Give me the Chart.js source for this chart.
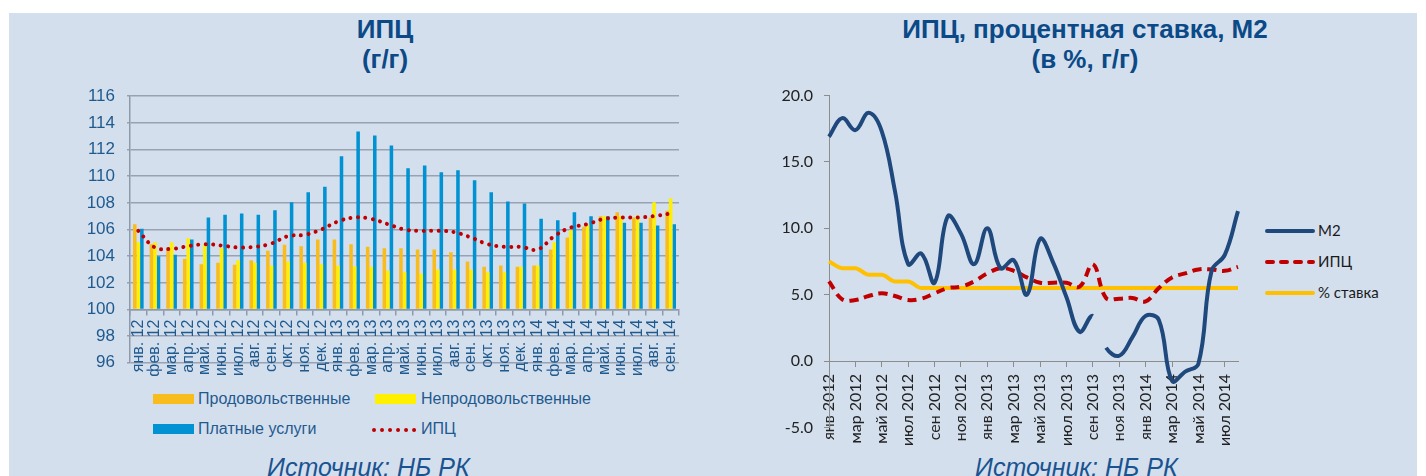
<!DOCTYPE html>
<html>
<head>
<meta charset="utf-8">
<script src="https://cdn.jsdelivr.net/npm/chart.js@4/dist/chart.umd.min.js"></script>
<style>
  body { margin: 0; width: 1426px; height: 476px; background: #fff; overflow: hidden; font-family: "Liberation Sans", Arial, sans-serif; }
  #panel { position: absolute; left: 9px; top: 13px; width: 1408px; height: 463px; background: #d4dfee; overflow: hidden; }
  .abs { position: absolute; }
  .title { position: absolute; text-align: center; font-weight: bold; font-size: 26px; line-height: 30px; color: #0b4a86; }
  .src { position: absolute; font-style: italic; font-size: 25px; color: #1a5390; white-space: nowrap; }
  .lg { position: absolute; font-size: 16px; color: #1f5a8e; white-space: nowrap; }
  .box { position: absolute; width: 41px; height: 10px; }
  .rlg { position: absolute; font-family: Lato, "Open Sans", sans-serif; font-size: 15px; color: #1a1a1a; white-space: nowrap; }
</style>
</head>
<body>
<div id="panel"></div>

<div class="title" style="left:185px; top:14px; width:400px;">ИПЦ<br>(г/г)</div>
<div class="title" style="left:835px; top:14px; width:500px;">ИПЦ, процентная ставка, M2<br>(в %, г/г)</div>

<canvas id="left" class="abs" style="left:60px; top:74px;"></canvas>
<canvas id="right" class="abs" style="left:760px; top:75px;"></canvas>

<!-- left legend -->
<div class="box" style="left:153px; top:394px; background:#f8bd1d;"></div>
<div class="lg" style="left:198px; top:390px;">Продовольственные</div>
<div class="box" style="left:375px; top:394px; background:#fff000;"></div>
<div class="lg" style="left:421px; top:390px;">Непродовольственные</div>
<div class="box" style="left:153px; top:424px; background:#0092d2;"></div>
<div class="lg" style="left:198px; top:420px;">Платные услуги</div>
<svg class="abs" style="left:372px; top:425px;" width="46" height="10">
  <line x1="2" y1="5" x2="44" y2="5" stroke="#c00000" stroke-width="4" stroke-linecap="round" stroke-dasharray="0.01 8"/>
</svg>
<div class="lg" style="left:421px; top:420px;">ИПЦ</div>

<!-- right legend -->
<svg class="abs" style="left:1265px; top:220px;" width="52" height="80">
  <line x1="2" y1="11" x2="48" y2="11" stroke="#1f497d" stroke-width="4" stroke-linecap="round"/>
  <line x1="2" y1="42" x2="48" y2="42" stroke="#c00000" stroke-width="4" stroke-linecap="round" stroke-dasharray="6 8"/>
  <line x1="2" y1="73" x2="48" y2="73" stroke="#ffc000" stroke-width="4" stroke-linecap="round"/>
</svg>
<div class="rlg" style="left:1318px; top:221px;">M2</div>
<div class="rlg" style="left:1318px; top:252px;">ИПЦ</div>
<div class="rlg" style="left:1318px; top:283px;">% ставка</div>

<div class="src" style="left:267px; top:453px;">Источник: НБ РК</div>
<div class="src" style="left:975px; top:453px;">Источник: НБ РК</div>

<script>
// ---- left chart: ИПЦ (г/г) ----
const leftLabels = ['янв. 12', 'фев. 12', 'мар. 12', 'апр. 12', 'май. 12', 'июн. 12', 'июл. 12', 'авг. 12',
    'сен. 12', 'окт. 12', 'ноя. 12', 'дек. 12', 'янв. 13', 'фев. 13', 'мар. 13', 'апр. 13', 'май. 13',
    'июн. 13', 'июл. 13', 'авг. 13', 'сен. 13', 'окт. 13', 'ноя. 13', 'дек. 13', 'янв. 14', 'фев. 14',
    'мар. 14', 'апр. 14', 'май. 14', 'июн. 14', 'июл. 14', 'авг. 14', 'сен. 14'];
const food = [106.4, 104.9, 104.6, 103.8, 103.4, 103.5, 103.35, 103.7, 104.4, 104.85, 104.75, 105.25,
    105.25, 104.9, 104.7, 104.6, 104.6, 104.5, 104.5, 104.3, 103.6, 103.2, 103.3, 103.2,
    103.3, 104.5, 105.4, 106.2, 107.0, 107.3, 106.9, 106.9, 107.4];
const nonFood = [105.05, 105.05, 105.05, 105.35, 104.9, 104.6, 103.7, 103.5, 103.3, 103.6, 103.5, 103.4,
    103.3, 103.25, 103.2, 102.9, 102.8, 102.7, 103.0, 103.0, 103.0, 102.8, 102.8, 103.2,
    103.3, 105.05, 105.95, 106.35, 107.0, 107.0, 107.05, 108.05, 108.35];
const services = [106.05, 104.0, 104.1, 105.25, 106.9, 107.1, 107.2, 107.1, 107.45, 108.05, 108.8, 109.2,
    111.5, 113.35, 113.05, 112.3, 110.6, 110.8, 110.3, 110.45, 109.7, 108.8, 108.1, 107.95,
    106.8, 106.7, 107.3, 107.0, 107.0, 106.5, 106.5, 106.3, 106.4];
const cpiIndex = [105.9, 104.65, 104.55, 104.75, 104.9, 104.8, 104.65, 104.7, 104.95, 105.5, 105.6, 106.0,
    106.6, 106.9, 106.8, 106.4, 106.0, 105.9, 105.9, 105.8, 105.4, 104.9, 104.7, 104.7,
    104.5, 105.5, 106.15, 106.4, 106.8, 106.9, 106.9, 107.0, 107.2];

// ---- right chart: ИПЦ, процентная ставка, M2 ----
const rightLabels = ['янв 2012', 'фев 2012', 'мар 2012', 'апр 2012', 'май 2012', 'июн 2012', 'июл 2012', 'авг 2012',
    'сен 2012', 'окт 2012', 'ноя 2012', 'дек 2012', 'янв 2013', 'фев 2013', 'мар 2013', 'апр 2013',
    'май 2013', 'июн 2013', 'июл 2013', 'авг 2013', 'сен 2013', 'окт 2013', 'ноя 2013', 'дек 2013',
    'янв 2014', 'фев 2014', 'мар 2014', 'апр 2014', 'май 2014', 'июн 2014', 'июл 2014', 'авг 2014'];
const m2 = [16.9, 18.3, 17.4, 18.7, 17.3, 12.8, 7.3, 8.1, 5.9, 10.9, 9.6, 7.3,
    10.0, 7.0, 7.6, 5.0, 9.2, 7.4, 4.8, 2.2, 3.4, 1.0, 0.4, 1.8,
    3.4, 3.1, -1.5, -0.8, -0.2, 6.8, 8.0, 11.3];
const cpiRight = [6.0, 4.65, 4.6, 4.9, 5.1, 4.9, 4.6, 4.7, 5.1, 5.5, 5.6, 6.0,
    6.6, 7.0, 6.8, 6.3, 5.9, 5.9, 5.9, 5.6, 7.3, 4.75, 4.7, 4.75,
    4.5, 5.5, 6.3, 6.6, 6.9, 6.9, 6.8, 7.1];
const rate = [7.5, 7.0, 7.0, 6.5, 6.5, 6.0, 6.0, 5.5, 5.5, 5.5, 5.5, 5.5,
    5.5, 5.5, 5.5, 5.5, 5.5, 5.5, 5.5, 5.5, 5.5, 5.5, 5.5, 5.5,
    5.5, 5.5, 5.5, 5.5, 5.5, 5.5, 5.5, 5.5];
const m2GapAfter = 20; // ряд М2 прерывается между сен 2013 и окт 2013

Chart.defaults.animation = false;

function sizeCanvas(id, w, h) {
    const c = document.getElementById(id);
    c.width = w; c.height = h;
    c.style.width = w + 'px'; c.style.height = h + 'px';
    return c;
}

const blueText = '#1f5a8e';

new Chart(sizeCanvas('left', 640, 311), {
    type: 'bar',
    data: {
        labels: leftLabels,
        datasets: [
            { type: 'line', label: 'ИПЦ', data: cpiIndex, order: 0, borderColor: '#c00000', borderWidth: 4,
              borderDash: [0.01, 7.5], borderCapStyle: 'round', pointRadius: 0, tension: 0.4, fill: false },
            { label: 'Продовольственные', data: food, base: 100, backgroundColor: '#f8bd1d', order: 1 },
            { label: 'Непродовольственные', data: nonFood, base: 100, backgroundColor: '#fff000', order: 1 },
            { label: 'Платные услуги', data: services, base: 100, backgroundColor: '#0092d2', order: 1 }
        ]
    },
    options: {
        responsive: false,
        layout: { padding: { left: 0, top: 10, right: 21, bottom: 13 } },
        datasets: { bar: { categoryPercentage: 0.64, barPercentage: 1.0 } },
        plugins: { legend: { display: false }, tooltip: { enabled: false } },
        scales: {
            x: {
                position: { y: 100 },
                grid: { drawOnChartArea: false, tickLength: 5, color: '#8e99aa', lineWidth: 1.5 },
                border: { color: '#8e99aa', width: 1.5 },
                ticks: { autoSkip: false, minRotation: 90, maxRotation: 90, padding: 5,
                         color: blueText, font: { family: 'Liberation Sans', size: 16 } }
            },
            y: {
                min: 96, max: 116,
                afterFit: (s) => { s.width = 70; },
                grid: { color: '#98a2b3', lineWidth: 1.5, tickLength: 3 },
                border: { color: '#8e99aa', width: 1.5 },
                ticks: { stepSize: 2, padding: 12, color: blueText, font: { family: 'Liberation Sans', size: 17 } }
            }
        }
    }
});

new Chart(sizeCanvas('right', 500, 373), {
    type: 'line',
    data: {
        labels: rightLabels,
        datasets: [
            { label: 'M2', data: m2, borderColor: '#1f497d', borderWidth: 4, pointRadius: 0, tension: 0.4,
              segment: { borderColor: (ctx) => ctx.p0DataIndex === m2GapAfter ? 'transparent' : undefined } },
            { label: 'ИПЦ', data: cpiRight, borderColor: '#c00000', borderWidth: 4, borderDash: [9, 6],
              pointRadius: 0, tension: 0.4 },
            { label: '% ставка', data: rate, borderColor: '#ffc000', borderWidth: 4, pointRadius: 0,
              cubicInterpolationMode: 'monotone' }
        ]
    },
    options: {
        responsive: false,
        layout: { padding: { left: 0, top: 9, right: 22, bottom: 18 } },
        plugins: { legend: { display: false }, tooltip: { enabled: false } },
        scales: {
            x: {
                position: { y: 0 },
                offset: false,
                grid: { drawOnChartArea: false, tickLength: 5, color: '#8c8c8c' },
                border: { color: '#8c8c8c' },
                ticks: { autoSkip: false, minRotation: 90, maxRotation: 90, padding: 8, color: '#222',
                         font: { family: 'Lato', size: 16 },
                         callback: (v, i) => i % 2 === 0 ? rightLabels[i] : null }
            },
            y: {
                min: -5, max: 20,
                afterFit: (s) => { s.width = 69; },
                grid: { drawOnChartArea: false, tickLength: 5, color: '#8c8c8c' },
                border: { color: '#8c8c8c' },
                ticks: { stepSize: 5, padding: 11, color: '#222', font: { family: 'Lato', size: 16 },
                         callback: (v) => v.toFixed(1) }
            }
        }
    }
});
</script>
</body>
</html>
